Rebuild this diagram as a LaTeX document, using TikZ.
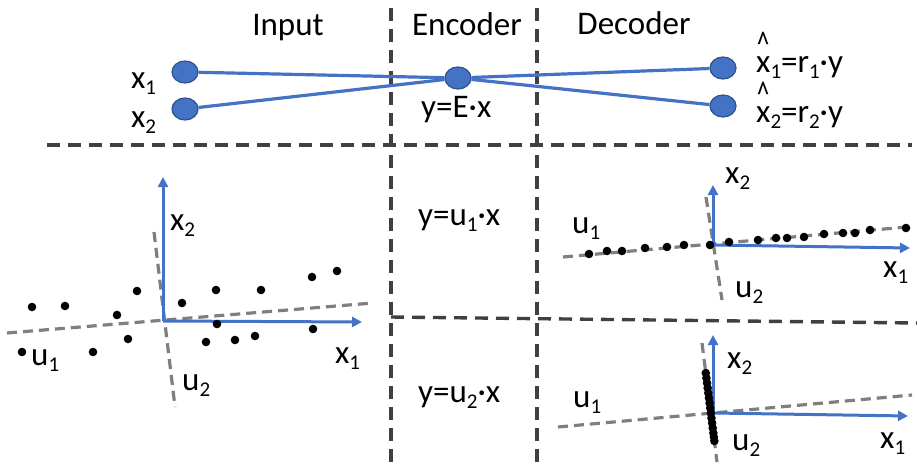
\documentclass[tikz,border=0pt]{standalone}
\usepackage{fontspec}
\setmainfont{Carlito}
\usetikzlibrary{arrows.meta,shapes.geometric}
\definecolor{nblue}{HTML}{4472C4}
\definecolor{nedge}{HTML}{2F528F}
\definecolor{sepcol}{HTML}{404040}
\definecolor{ugray}{HTML}{7F7F7F}
\newcommand\lsub[1]{\raisebox{-0.21em}{\fontsize{21}{21}\selectfont #1}}
\newcommand\xhat{\rlap{\hspace{0.02em}\raisebox{0.46em}{\scalebox{0.7}[1]{\fontsize{36}{36}\selectfont\textasciicircum}}}x}
\tikzset{
  lbl/.style={font=\fontsize{33}{40}\selectfont, inner sep=0pt, anchor=base west},
  hdr/.style={font=\fontsize{33}{40}\selectfont, inner sep=0pt, anchor=base},
  sepline/.style={draw=sepcol, line width=3.4pt, dash pattern=on 13pt off 8pt},
  uline/.style={draw=ugray, line width=3.2pt, dash pattern=on 10pt off 6pt},
  axis/.style={draw=nblue, line width=3pt, -{Triangle[length=10pt,width=10pt]}},
  neuron/.style={ellipse, fill=nblue, draw=nedge, line width=1.2pt, minimum width=26pt, minimum height=22pt, inner sep=0pt},
  wire/.style={draw=nblue, line width=3.2pt},
}
\begin{document}
\begin{tikzpicture}[x=1pt,y=-1pt]
\useasboundingbox (0,0) rectangle (917,463);
% separators
\draw[sepline] (391,8) -- (391,463);
\draw[sepline] (537,8) -- (537,463);
\draw[sepline] (47,145) -- (912,145);
\draw[sepline] (391,317) -- (917,323);
% headers
\node[hdr] (hin) at (288,35) {Input};
\node[hdr] (henc) at (467,35) {Encoder};
\node[hdr] (hdec) at (634,34) {Decoder};
% network
\node[neuron] (n1) at (185,72) {};
\node[neuron] (n2) at (185,109) {};
\node[neuron] (ne) at (458,78) {};
\node[neuron] (o1) at (723,68) {};
\node[neuron] (o2) at (723,106) {};
\draw[wire] (n1) -- (ne);
\draw[wire] (n2) -- (ne);
\draw[wire] (ne) -- (o1);
\draw[wire] (ne) -- (o2);
\node[lbl] (ln1) at (131,88) {x\lsub{1}};
\node[lbl] (ln2) at (131,127) {x\lsub{2}};
\node[lbl] (lne) at (421,117) {y=E·x};
\node[lbl] (lo1) at (756,72) {\xhat\lsub{1}=r\lsub{1}·y};
\node[lbl] (lo2) at (756,122) {\xhat\lsub{2}=r\lsub{2}·y};
% encoder formulas
\node[lbl] (f1) at (418,225) {y=u\lsub{1}·x};
\node[lbl] (f2) at (418,402) {y=u\lsub{2}·x};
% ---- left plot
\coordinate (lo) at (163,321);
\coordinate (lx2) at (163,177);
\coordinate (lx1) at (362,322);
\coordinate (lu1a) at (7,333);
\coordinate (lu1b) at (373,303);
\coordinate (lu2a) at (154,232);
\coordinate (lu2b) at (175,407);
\draw[uline] (lu1a) -- (lu1b);
\draw[uline] (lu2a) -- (lu2b);
\draw[axis] (lo) -- (lx2);
\draw[axis] (lo) -- (lx1);
\foreach \px/\py in {32/307,65/306,137/291,117/315,128/339,93/352,22/352,182/303,216/290,217/324,206/342,235/340,255/336,261/290,312/277,337/271,313/329}
  \fill (\px,\py) circle (4.3pt);
\node[lbl] (lpx2) at (170,230) {x\lsub{2}};
\node[lbl] (lpx1) at (335,363) {x\lsub{1}};
\node[lbl] (lpu1) at (31,365) {u\lsub{1}};
\node[lbl] (lpu2) at (182,390) {u\lsub{2}};
% ---- top right plot
\coordinate (ao) at (713,245);
\coordinate (ax2) at (713,185);
\coordinate (ax1) at (910,248);
\coordinate (au1a) at (563,257);
\coordinate (au1b) at (907,227);
\coordinate (au2a) at (706,197);
\coordinate (au2b) at (722,300);
\draw[uline] (au1a) -- (au1b);
\draw[uline] (au2a) -- (au2b);
\draw[axis] (ao) -- (ax2);
\draw[axis] (ao) -- (ax1);
\foreach \px/\py in {589/254,607/251,622/251,645/248,667/247,684/245,710/245,729/242,758/240,776/238,787/238,804/237,824/234,843/233,855/233,870/230,906/228}
  \fill (\px,\py) circle (4.3pt);
\node[lbl] (apx2) at (725,183) {x\lsub{2}};
\node[lbl] (apx1) at (883,277) {x\lsub{1}};
\node[lbl] (apu1) at (572,233) {u\lsub{1}};
\node[lbl] (apu2) at (735,297) {u\lsub{2}};
% ---- bottom right plot
\coordinate (bo) at (713,413);
\coordinate (bx2) at (713,335);
\coordinate (bx1) at (908,416);
\coordinate (bu1a) at (558,427);
\coordinate (bu1b) at (912,395);
\coordinate (bu2a) at (702,343);
\coordinate (bu2b) at (717,462);
\draw[uline] (bu1a) -- (bu1b);
\draw[uline] (bu2a) -- (bu2b);
\draw[axis] (bo) -- (bx2);
\draw[axis] (bo) -- (bx1);
\foreach \py in {373,378,383,388,393,398,403,408,413,418,423,428,433,437,441}
  \fill ({702+(\py-343)*15/119},\py) circle (4.3pt);
\node[lbl] (bpx2) at (727,368) {x\lsub{2}};
\node[lbl] (bpx1) at (880,448) {x\lsub{1}};
\node[lbl] (bpu1) at (573,407) {u\lsub{1}};
\node[lbl] (bpu2) at (732,450) {u\lsub{2}};
\end{tikzpicture}
\end{document}
